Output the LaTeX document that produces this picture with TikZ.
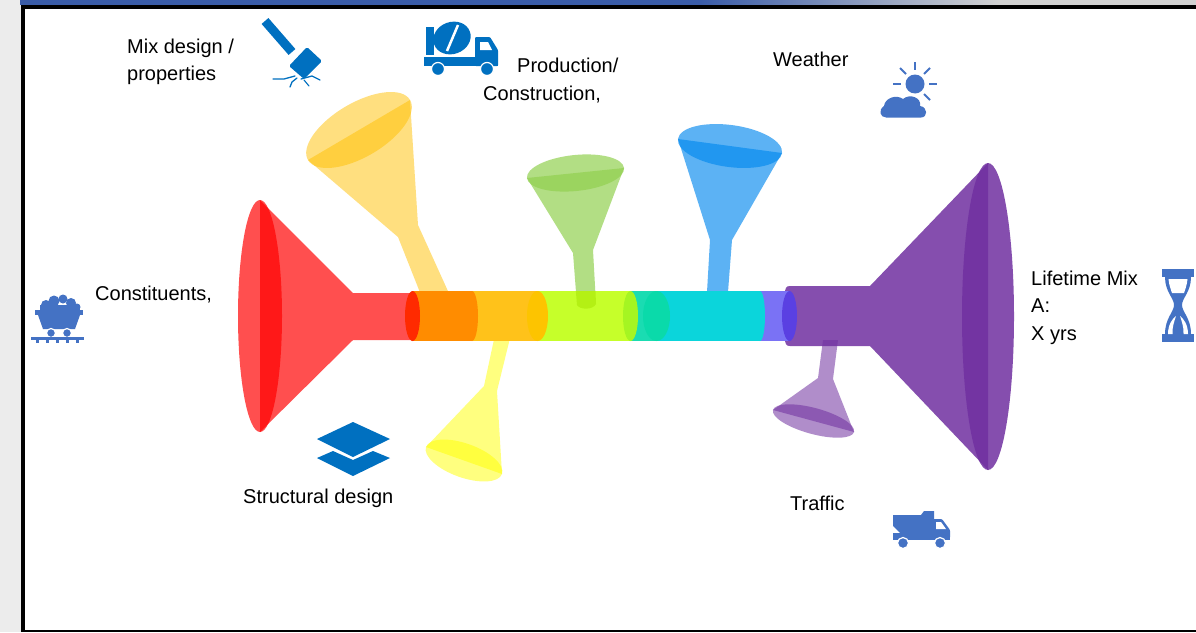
\documentclass[tikz,border=0pt]{standalone}
\usepackage{fontspec}
\setmainfont{Liberation Sans}
\begin{document}
\definecolor{iconA}{HTML}{0070C0}
\definecolor{iconB}{HTML}{4472C4}
\definecolor{fred}{HTML}{FF0000}
\definecolor{fgold}{HTML}{FFC000}
\definecolor{fgreen}{HTML}{92D050}
\definecolor{fblue}{RGB}{0,136,239}
\definecolor{fyel}{HTML}{FFFF00}
\definecolor{fpurp}{HTML}{7030A0}
\definecolor{pOrange}{HTML}{FF8C00}
\definecolor{pRedEnd}{HTML}{FF2A00}
\definecolor{pGold}{HTML}{FFC21A}
\definecolor{pGoldEnd}{HTML}{FDC400}
\definecolor{pLime}{HTML}{C6FF2A}
\definecolor{pLimeEnd}{HTML}{A5F522}
\definecolor{pLimeStem}{HTML}{B4F014}
\definecolor{pTeal}{HTML}{1ADCB2}
\definecolor{pTealEnd}{HTML}{0ADAAA}
\definecolor{pCyan}{HTML}{0BD5DB}
\definecolor{pViolet}{HTML}{7A72F5}
\definecolor{pVioletEnd}{HTML}{5A40E2}
\begin{tikzpicture}[x=1pt,y=-1pt,
  lbl/.style={font=\fontsize{20}{24}\selectfont, inner sep=0pt, anchor=base west, text=black},
  wheel/.style={draw=white, line width=1.2pt},
  ray/.style={iconB, line width=2pt}]
\useasboundingbox (0,0) rectangle (1196,632);

% page surroundings and frame
\fill[gray!15] (0,0) rectangle (1196,632);
\fill[white] (25,8.5) rectangle (1196,629.5);
\fill[color={rgb,255:red,58;green,92;blue,168}] (20,0) rectangle (700,4.5);
\shade[left color={rgb,255:red,58;green,92;blue,168}, right color=gray!35] (700,0) rectangle (1000,4.5);
\fill[gray!35] (1000,0) rectangle (1196,4.5);
\fill[black] (21,4.5) rectangle (1196,8.5);
\fill[black] (21,4.5) rectangle (25,632);
\fill[black] (21,629.5) rectangle (1196,632);

% ---- small funnels (drawn under the main pipe) ----
% gold funnel, top left
\fill[fgold, fill opacity=0.5] (308,160) -- (398,237) -- (423,300) -- (452,300) -- (418,225) -- (410,100) -- cycle;
\fill[fgold, fill opacity=0.5, rotate around={30.5:(359,130)}] (359,130) ellipse [x radius=59.2, y radius=27];
% green funnel
\fill[fgreen, fill opacity=0.7] (527,178) -- (573,253) -- (577,305) .. controls (580,309) and (593,309) .. (596,304) -- (593,250) -- (624,168) -- cycle;
\fill[fgreen, fill opacity=0.7, rotate around={5.9:(575.5,173)}] (575.5,173) ellipse [x radius=48.8, y radius=18];
% blue funnel
\fill[fblue, fill opacity=0.64] (678,139) -- (710,240) -- (707,292) -- (728,292) -- (732,240) -- (782,153) -- cycle;
\fill[fblue, fill opacity=0.64, rotate around={-7.7:(730,146)}] (730,146) ellipse [x radius=52.5, y radius=21];
% yellow funnel, below the pipe
\fill[fyel, fill opacity=0.5] (426,447) -- (484,386) -- (496,330) -- (512,330) -- (497,391) -- (502,474) -- cycle;
\fill[fyel, fill opacity=0.5, rotate around={-19.6:(464,460.5)}] (464,460.5) ellipse [x radius=40.3, y radius=17];
% small purple funnel
\fill[fpurp, fill opacity=0.55] (773,410) -- (818,378) -- (823,340) -- (838,340) -- (833,379) -- (854,432) -- cycle;
\fill[fpurp, fill opacity=0.55, rotate around={-15.2:(813.5,421)}] (813.5,421) ellipse [x radius=42, y radius=13];

% ---- big funnels ----
% red intake funnel
\fill[fred, fill opacity=0.69] (260,200) -- (353,293) -- (412,293) -- (412,340) -- (353,340) -- (260,432) -- cycle;
\fill[fred, fill opacity=0.69] (260,316) ellipse [x radius=22, y radius=116];
% purple outlet funnel
\fill[fpurp, fill opacity=0.85] (785,294) .. controls (785,288) and (786,286) .. (790,286) -- (870,286) -- (988,163) -- (988,470) -- (870,346) -- (790,346) .. controls (786,346) and (785,344) .. (785,338) -- cycle;
\fill[fpurp, fill opacity=0.85] (988,316.5) ellipse [x radius=26, y radius=153.5];

% ---- main pipe segments ----
\fill[pGold] (465,291) rectangle (540,341);
\fill[pOrange] (412,291) rectangle (472,341);
\fill[pOrange] (472,316) ellipse [x radius=6, y radius=25];
\fill[pRedEnd] (412.5,316) ellipse [x radius=7.5, y radius=25];
\fill[pLime] (538,291) rectangle (632,341);
\fill[pGoldEnd] (537.5,316) ellipse [x radius=10.5, y radius=25];
% green stem seen through the pipe
\begin{scope}
  \clip (560,291) rectangle (610,341);
  \fill[pLimeStem] (575,280) -- (577,305) .. controls (580,310) and (593,310) .. (596,304) -- (595,280) -- cycle;
\end{scope}
\fill[pTeal] (630,291) rectangle (660,341);
\fill[pLimeEnd] (630.5,316) ellipse [x radius=7.5, y radius=25];
\fill[pViolet] (755,291) rectangle (790,341);
\fill[pCyan] (656,291) rectangle (760,341);
\fill[pCyan] (760,316) ellipse [x radius=5, y radius=25];
\fill[pTealEnd] (656.5,316) ellipse [x radius=13.5, y radius=25];
\fill[pVioletEnd] (789.5,316) ellipse [x radius=7.5, y radius=25];

% ---- icons ----
% hammer
\draw[iconA, line width=9pt] (265,21) -- (292,52);
\fill[iconA, rounded corners=1.5pt] (289,66) -- (307,47) -- (322,61) -- (304,79) -- cycle;
\draw[iconA, line width=1.3pt, line cap=round] (295,76) -- (284,79) -- (273,79);
\draw[iconA, line width=1.3pt, line cap=round] (297,78) -- (292,82) -- (290,87);
\draw[iconA, line width=1.3pt, line cap=round] (301,79) -- (312,76) -- (320,80);
\draw[iconA, line width=1.1pt, line cap=round] (304,80) -- (309,86);
% mixer truck
\fill[iconA] (426,27) rectangle (434,55);
\fill[iconA, rotate around={20:(452,38)}] (452,38) ellipse [x radius=19, y radius=16];
\draw[white, line width=2.5pt] (458,25) -- (447,51);
\fill[iconA] (424,57) rectangle (498,66);
\fill[iconA, rounded corners=1pt] (475,66) -- (475,37) -- (490,37) -- (498,50) -- (498,66) -- cycle;
\fill[white] (480,42) -- (488,42) -- (492,50) -- (480,50) -- cycle;
\fill[iconA, wheel] (438,69) circle [radius=6.5];
\fill[iconA, wheel] (487,69) circle [radius=6.5];
% weather
\fill[iconB] (915,84) circle [radius=9.5];
\draw[ray] (915,62) -- (915,70);
\draw[ray] (900,68) -- (906,74);
\draw[ray] (930,68) -- (924,74);
\draw[ray] (893,84) -- (901,84);
\draw[ray] (929,84) -- (937,84);
\draw[ray] (924,94) -- (930,100);
\begin{scope}
  \path[draw=white, line width=3pt, fill=iconB] (886,117.5) .. controls (880,117.5) and (878,110) .. (884,106) .. controls (885,98) and (896,94) .. (903,99) .. controls (910,93) and (922,98) .. (920,106) .. controls (928,107) and (928,117.5) .. (921,117.5) -- cycle;
  \fill[iconB] (886,117.5) .. controls (880,117.5) and (878,110) .. (884,106) .. controls (885,98) and (896,94) .. (903,99) .. controls (910,93) and (922,98) .. (920,106) .. controls (928,107) and (928,117.5) .. (921,117.5) -- cycle;
\end{scope}
% ore cart
\fill[iconB] (46,305) circle [radius=5];
\fill[iconB] (54,301) circle [radius=5.5];
\fill[iconB] (63,299) circle [radius=4.5];
\fill[iconB] (71,303) circle [radius=5];
\fill[iconB] (77,307) circle [radius=3.5];
\fill[iconB] (40,305) rectangle (80,311);
\fill[iconB] (35,310) rectangle (83,315);
\fill[iconB] (38,315) -- (80,315) -- (75,329) -- (43,329) -- cycle;
\fill[iconB, wheel] (51,333) circle [radius=4.5];
\fill[iconB, wheel] (67,333) circle [radius=4.5];
\fill[iconB] (31,337) rectangle (84,340);
\foreach \tx in {36,46,56,66,76} \fill[iconB] (\tx,339) rectangle ++(3,3.5);
% hourglass
\fill[iconB] (1162,269) rectangle (1194,277);
\fill[iconB] (1162,334) rectangle (1194,342);
\fill[iconB] (1165,277) -- (1191,277) .. controls (1191,292) and (1182,298) .. (1182,305) .. controls (1182,312) and (1191,318) .. (1191,334) -- (1165,334) .. controls (1165,318) and (1174,312) .. (1174,305) .. controls (1174,298) and (1165,292) .. (1165,277) -- cycle;
\fill[white] (1168.5,279) -- (1187.5,279) .. controls (1187,285) and (1185,290) .. (1184,293) -- (1172,293) .. controls (1171,290) and (1169,285) .. (1168.5,279) -- cycle;
\fill[white] (1168,334) .. controls (1168,325) and (1172,319) .. (1176,316) .. controls (1174,322) and (1172,328) .. (1172.5,334) -- cycle;
\fill[white] (1188,334) .. controls (1188,325) and (1184,319) .. (1180,316) .. controls (1182,322) and (1184,328) .. (1183.5,334) -- cycle;
% layers
\fill[iconA] (317,439) -- (353,422) -- (390,439) -- (353,457) -- cycle;
\fill[iconA] (317,458) -- (333,451) -- (353,460) -- (373,451) -- (390,458) -- (353,476) -- cycle;
% dump truck
\fill[iconB] (893,515) -- (921,515) -- (924,511) -- (934,511) -- (934,533) -- (900,533) -- (893,526) -- cycle;
\fill[iconB, rounded corners=1pt] (933,538) -- (933,519) -- (942,519) -- (950,530) -- (950,538) -- cycle;
\fill[white] (936,522) -- (941,522) -- (946,529) -- (936,529) -- cycle;
\fill[iconB] (893,533) rectangle (950,540);
\fill[iconB, wheel] (903,543) circle [radius=5.5];
\fill[iconB, wheel] (940,543) circle [radius=5.5];

% ---- labels ----
\node[lbl] (mixA) at (127,53) {Mix design /};
\node[lbl] (mixB) at (127,80) {properties};
\node[lbl] (prodA) at (517,72) {Production/};
\node[lbl] (prodB) at (483,100) {Construction,};
\node[lbl] (weather) at (773,66) {Weather};
\node[lbl] (constit) at (95,300) {Constituents,};
\node[lbl] (lifeA) at (1031,285) {Lifetime Mix};
\node[lbl] (lifeB) at (1031,312) {A:};
\node[lbl] (lifeC) at (1031,340) {X yrs};
\node[lbl] (struct) at (243,503) {Structural design};
\node[lbl] (traffic) at (790,510) {Traffic};
\end{tikzpicture}
\end{document}
